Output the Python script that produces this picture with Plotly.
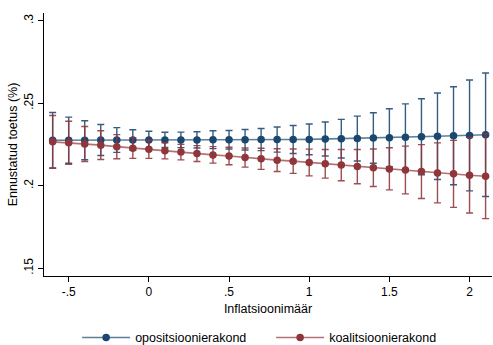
import plotly.graph_objects as go

# Inflation rate grid
inflation = [-0.6, -0.5, -0.4, -0.3, -0.2, -0.1, 0.0, 0.1, 0.2, 0.3, 0.4, 0.5, 0.6, 0.7,
             0.8, 0.9, 1.0, 1.1, 1.2, 1.3, 1.4, 1.5, 1.6, 1.7, 1.8, 1.9, 2.0, 2.1]

# Predicted support, opposition party, with 95% CI bounds
opp_pred = [0.2276, 0.2276, 0.2276, 0.2277, 0.2277, 0.2277, 0.2277, 0.2278, 0.2278, 0.2278,
            0.2279, 0.2279, 0.2279, 0.2280, 0.2280, 0.2280, 0.2281, 0.2283, 0.2285, 0.2286,
            0.2289, 0.2291, 0.2294, 0.2297, 0.2300, 0.2303, 0.2305, 0.2309]
opp_upper = [0.2444, 0.2416, 0.2394, 0.2371, 0.2352, 0.2339, 0.2330, 0.2324, 0.2325, 0.2327,
             0.2333, 0.2335, 0.2341, 0.2347, 0.2356, 0.2365, 0.2374, 0.2386, 0.2402, 0.2422,
             0.2442, 0.2467, 0.2496, 0.2527, 0.2562, 0.2600, 0.2641, 0.2683]
opp_lower = [0.2108, 0.2136, 0.2158, 0.2183, 0.2202, 0.2215, 0.2224, 0.2232, 0.2231, 0.2229,
             0.2225, 0.2223, 0.2217, 0.2213, 0.2204, 0.2195, 0.2188, 0.2180, 0.2168, 0.2150,
             0.2136, 0.2115, 0.2092, 0.2067, 0.2038, 0.2006, 0.1969, 0.1935]

# Predicted support, coalition party, with 95% CI bounds
coal_pred = [0.2266, 0.2260, 0.2253, 0.2246, 0.2237, 0.2228, 0.2221, 0.2212, 0.2204, 0.2195,
             0.2187, 0.2180, 0.2171, 0.2163, 0.2155, 0.2149, 0.2141, 0.2133, 0.2125, 0.2116,
             0.2109, 0.2102, 0.2095, 0.2086, 0.2078, 0.2072, 0.2064, 0.2058]
coal_upper = [0.2426, 0.2391, 0.2359, 0.2333, 0.2310, 0.2291, 0.2276, 0.2261, 0.2251, 0.2243,
              0.2237, 0.2233, 0.2229, 0.2227, 0.2224, 0.2223, 0.2222, 0.2220, 0.2220, 0.2220,
              0.2223, 0.2230, 0.2240, 0.2249, 0.2260, 0.2275, 0.2293, 0.2315]
coal_lower = [0.2106, 0.2130, 0.2147, 0.2159, 0.2164, 0.2166, 0.2166, 0.2163, 0.2157, 0.2147,
              0.2137, 0.2127, 0.2113, 0.2099, 0.2086, 0.2075, 0.2060, 0.2046, 0.2030, 0.2012,
              0.1995, 0.1975, 0.1951, 0.1923, 0.1896, 0.1869, 0.1835, 0.1801]

series_names = ["opositsioonierakond", "koalitsioonierakond"]

x_ticks = [-0.5, 0, 0.5, 1, 1.5, 2]
x_tick_labels = ["-.5", "0", ".5", "1", "1.5", "2"]
y_ticks = [0.15, 0.2, 0.25, 0.3]
y_tick_labels = [".15", ".2", ".25", ".3"]

NAVY = "#1a476f"
MAROON = "#90353b"
FONT = "Liberation Sans, Arial, sans-serif"


def ci_trace(name, pred, lower, upper, color, line_rgba, bar_rgba):
    return go.Scatter(
        x=inflation,
        y=pred,
        name=name,
        mode="lines+markers",
        line=dict(color=line_rgba, width=1.6),
        marker=dict(color=color, size=7.5),
        error_y=dict(
            type="data",
            symmetric=False,
            array=[u - p for u, p in zip(upper, pred)],
            arrayminus=[p - l for p, l in zip(pred, lower)],
            color=bar_rgba,
            thickness=1.4,
            width=3.5,
        ),
    )


fig = go.Figure()
fig.add_trace(ci_trace(series_names[0], opp_pred, opp_lower, opp_upper, NAVY,
                       "rgba(26,71,111,0.7)", "rgba(26,71,111,0.88)"))
fig.add_trace(ci_trace(series_names[1], coal_pred, coal_lower, coal_upper, MAROON,
                       "rgba(144,53,59,0.7)", "rgba(144,53,59,0.88)"))

fig.update_layout(
    width=493,
    height=345,
    margin=dict(l=44, r=1, t=13, b=69, autoexpand=False),
    paper_bgcolor="white",
    plot_bgcolor="white",
    font=dict(family=FONT, size=12, color="black"),
    showlegend=True,
    legend=dict(
        orientation="h",
        x=0.507,
        xanchor="center",
        y=-0.235,
        yanchor="middle",
        bgcolor="rgba(0,0,0,0)",
        font=dict(family=FONT, size=12.5, color="black"),
        itemwidth=48,
        entrywidth=131,
    ),
)

fig.update_xaxes(
    range=[-0.654, 2.14],
    tickvals=x_ticks,
    ticktext=x_tick_labels,
    ticks="outside",
    ticklen=5,
    tickcolor="black",
    showline=True,
    linecolor="black",
    linewidth=1,
    showgrid=False,
    zeroline=False,
    title=dict(text="Inflatsioonimäär", font=dict(family=FONT, size=12.5), standoff=5),
)

fig.update_yaxes(
    range=[0.1453, 0.3047],
    tickvals=y_ticks,
    ticktext=y_tick_labels,
    tickangle=-90,
    ticks="outside",
    ticklen=5,
    tickcolor="black",
    showline=True,
    linecolor="black",
    linewidth=1,
    showgrid=False,
    zeroline=False,
    title=dict(text="Ennustatud toetus (%)", font=dict(family=FONT, size=12.5), standoff=1),
)

fig.write_html("out.html")
